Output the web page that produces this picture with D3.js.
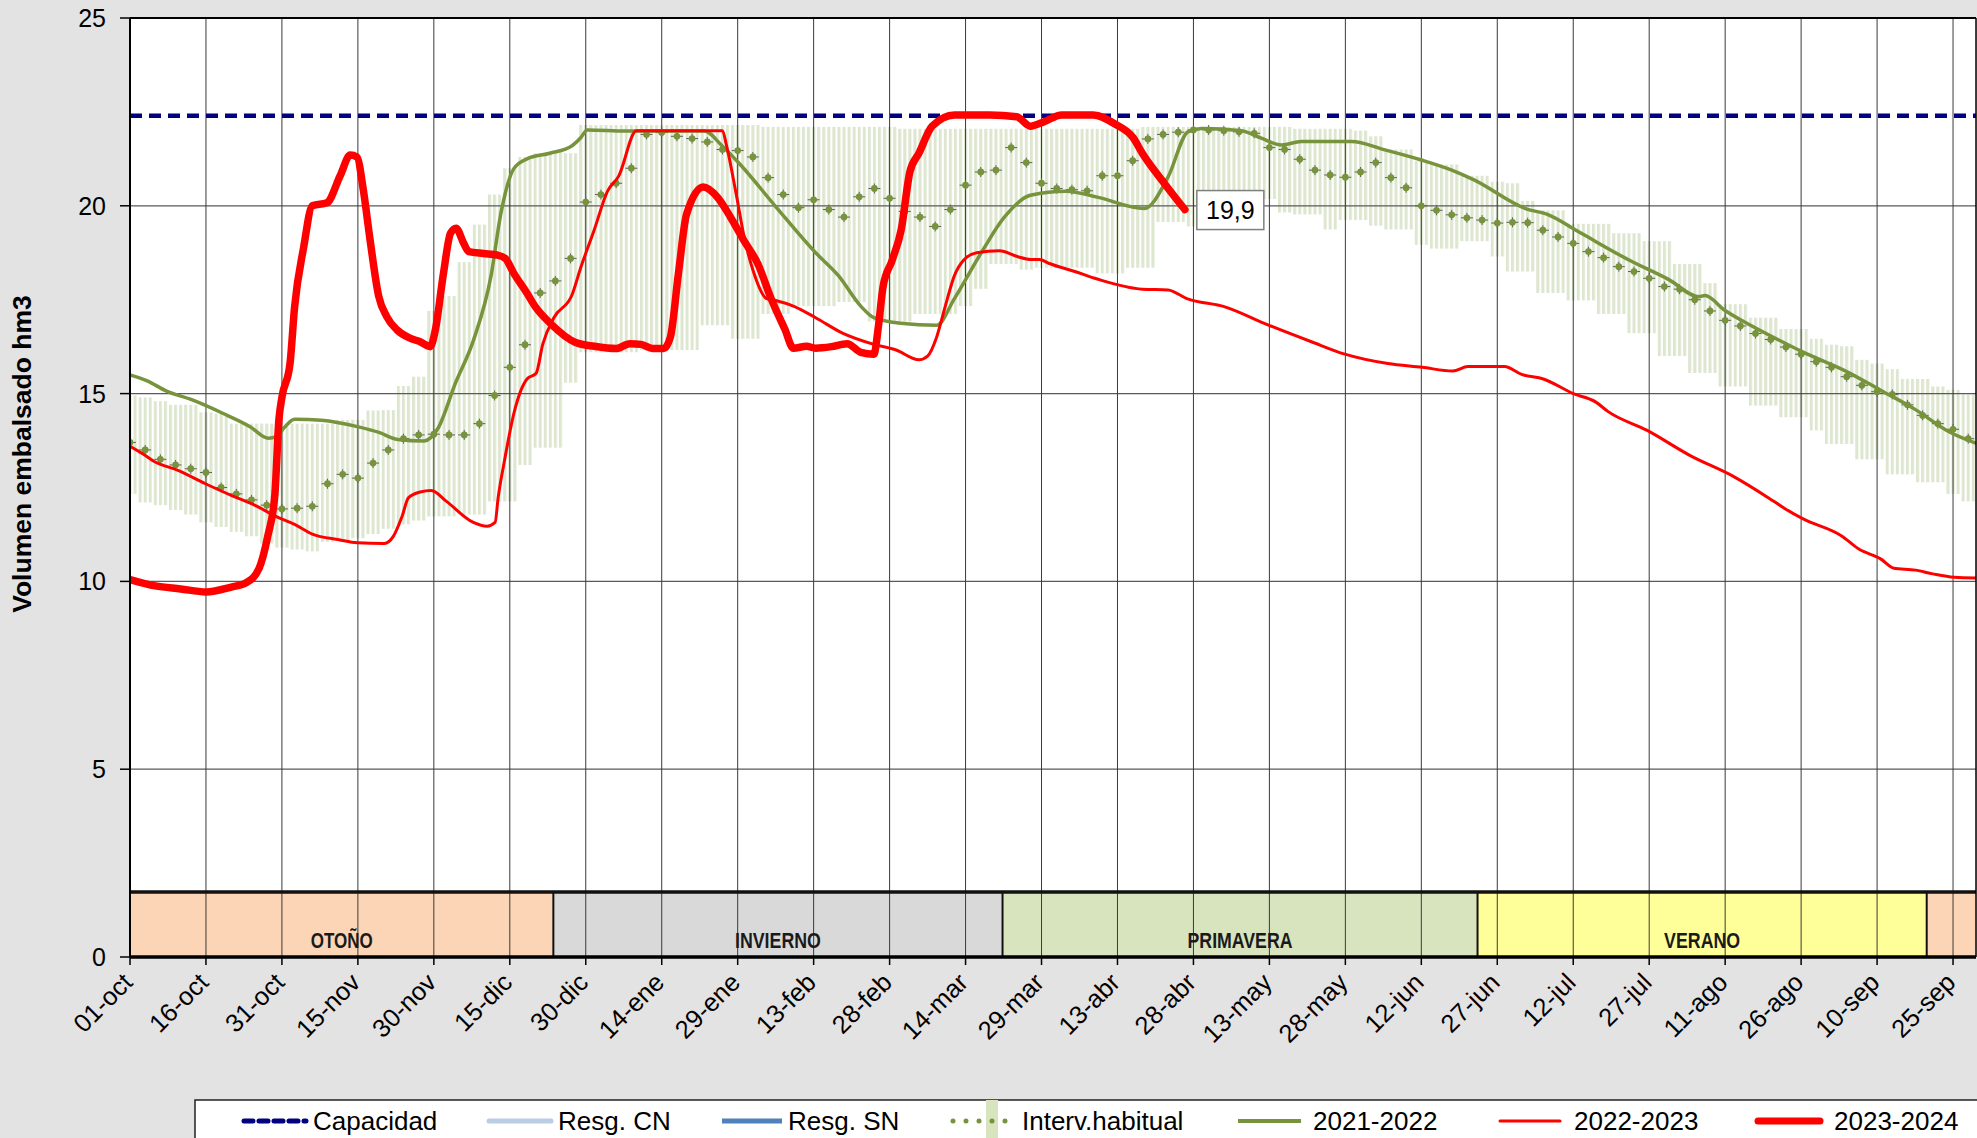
<!DOCTYPE html>
<html><head><meta charset="utf-8">
<script src="https://cdn.jsdelivr.net/npm/d3@7"></script>
<style>html,body{margin:0;padding:0;background:#e3e3e3;} svg{display:block;}</style>
</head><body>
<svg id="chart" width="1977" height="1138"></svg>
<script>
// ---------------- DATA ----------------
const tickLabels = ["01-oct","16-oct","31-oct","15-nov","30-nov","15-dic","30-dic","14-ene","29-ene","13-feb","28-feb","14-mar","29-mar","13-abr","28-abr","13-may","28-may","12-jun","27-jun","12-jul","27-jul","11-ago","26-ago","10-sep","25-sep"];
const tickDays = [0,15,30,45,60,75,90,105,120,135,150,165,180,195,210,225,240,255,270,285,300,315,330,345,360];
const yTicks = [0,5,10,15,20,25];
const capacidad = 22.4;
const seasonNames = ["OTOÑO","INVIERNO","PRIMAVERA","VERANO",""];
const seasonStart = [0, 83.6, 172.3, 266.1, 354.8];
const seasonEnd = [83.6, 172.3, 266.1, 354.8, 365];
const seasonBandTop = 1.73;

const habDays = [0,3,6,9,12,15,18,21,24,27,30,33,36,39,42,45,48,51,54,57,60,63,66,69,72,75,78,81,84,87,90,93,96,99,102,105,108,111,114,117,120,123,126,129,132,135,138,141,144,147,150,153,156,159,162,165,168,171,174,177,180,183,186,189,192,195,198,201,204,207,210,213,216,219,222,225,228,231,234,237,240,243,246,249,252,255,258,261,264,267,270,273,276,279,282,285,288,291,294,297,300,303,306,309,312,315,318,321,324,327,330,333,336,339,342,345,348,351,354,357,360,363];
const habHigh = [14.95,14.9,14.8,14.7,14.7,14.5,14.47,14.2,14.2,14.2,14.12,14.2,14.2,14.2,14.3,14.3,14.55,14.56,15.2,15.45,17.2,17.6,18.5,19.5,20.3,21.0,21.3,21.4,21.45,21.4,22.15,22.15,22.15,22.15,22.15,22.15,22.15,22.15,22.15,22.15,22.15,22.15,22.1,22.1,22.1,22.1,22.1,22.1,22.1,22.1,22.1,22.05,22.05,22.05,22.05,22.05,22.05,22.05,22.05,22.05,22.05,22.05,22.05,22.05,22.05,22.05,22.05,22.1,22.1,22.1,22.1,22.1,22.1,22.1,22.1,22.1,22.1,22.05,22.05,22.05,22.05,22.0,21.85,21.5,21.5,21.2,21.1,21.1,20.8,20.8,20.64,20.6,20.13,19.88,19.88,19.52,19.52,19.52,19.27,19.27,19.06,19.06,18.45,18.45,17.94,17.38,17.38,17.02,17.02,16.72,16.72,16.46,16.3,16.26,15.9,15.8,15.65,15.39,15.39,15.19,15.1,14.98];
const habLow = [12.33,12.1,12.03,11.9,11.78,11.57,11.45,11.32,11.2,11.01,10.9,10.85,10.8,11.05,11.1,11.15,11.26,11.4,11.52,11.62,11.73,11.73,11.78,11.78,12.13,12.13,13.1,13.56,13.56,15.29,16.1,16.1,16.1,16.1,16.16,16.16,16.16,16.16,16.82,16.82,16.46,16.46,17.12,17.12,17.33,17.33,17.33,17.44,17.44,16.92,16.92,16.92,17.12,17.12,17.12,17.33,17.79,18.45,18.45,18.3,18.35,18.35,18.35,18.35,18.2,18.2,18.35,18.35,19.57,19.57,19.45,19.45,19.45,19.45,20.18,20.18,19.82,19.77,19.77,19.37,19.62,19.62,19.47,19.37,19.37,18.96,18.86,18.86,19.06,19.06,18.65,18.25,18.25,17.68,17.68,17.48,17.48,17.12,17.12,16.61,16.61,16.0,16.0,15.55,15.55,15.19,15.19,14.68,14.68,14.37,14.37,14.02,13.66,13.66,13.25,13.25,12.85,12.85,12.64,12.64,12.33,12.13];
const habMed = [13.7,13.5,13.25,13.1,13.0,12.9,12.5,12.33,12.17,12.03,11.93,11.95,12.0,12.6,12.85,12.75,13.15,13.5,13.8,13.9,13.92,13.9,13.9,14.2,14.95,15.7,16.3,17.68,18.0,18.6,20.1,20.3,20.6,21.0,21.9,21.95,21.85,21.79,21.7,21.5,21.47,21.3,20.75,20.3,19.95,20.16,19.9,19.7,20.24,20.46,20.2,19.85,19.7,19.45,19.9,20.55,20.9,20.95,21.55,21.15,20.6,20.46,20.43,20.4,20.8,20.8,21.2,21.78,21.9,21.96,22.02,22.02,22.0,21.97,21.93,21.55,21.5,21.24,20.95,20.82,20.76,20.9,21.15,20.75,20.48,20.0,19.88,19.76,19.68,19.62,19.54,19.56,19.55,19.35,19.17,19.0,18.78,18.62,18.38,18.25,18.07,17.85,17.78,17.5,17.2,16.95,16.8,16.6,16.44,16.24,16.05,15.85,15.7,15.45,15.22,15.05,14.98,14.7,14.42,14.2,14.05,13.8];

const serie2021 = [[0,15.5],[3.4,15.34],[7,15.08],[12.3,14.83],[18.4,14.47],[23.7,14.12],[27.3,13.81],[29,13.86],[30.5,14.1],[32.5,14.32],[37.8,14.29],[44.9,14.12],[49.3,13.96],[52.8,13.78],[58.1,13.74],[60.8,14.07],[64.3,15.29],[67.8,16.41],[71.3,18.14],[73.2,19.77],[75.8,20.99],[78.4,21.25],[82.9,21.4],[87.3,21.6],[89,21.81],[90.3,22.02],[97.9,21.99],[113.4,21.99],[116.9,21.6],[120.5,21.1],[127.5,19.98],[135.4,18.75],[139.9,18.14],[144.3,17.33],[146.9,17.02],[152.2,16.87],[159.3,16.82],[162.8,17.53],[168.1,18.75],[172.5,19.67],[177.8,20.28],[184.9,20.39],[191,20.23],[200.3,19.93],[205,20.77],[208.9,21.97],[211.6,22.06],[219.5,22.0],[223.4,21.8],[227.4,21.62],[231.3,21.71],[241.2,21.71],[247.8,21.49],[255,21.22],[261,20.95],[265.4,20.69],[275.7,19.92],[279.9,19.77],[285.9,19.32],[296.1,18.55],[303.8,18.04],[309.8,17.58],[311,17.61],[314.9,17.22],[320,16.82],[325.1,16.46],[330.3,16.11],[338.8,15.6],[345.7,15.09],[352.5,14.58],[359.4,13.97],[364.9,13.66]];
const serie2022 = [[0,13.6],[2.5,13.4],[4.7,13.2],[9.6,12.95],[14.9,12.6],[20.2,12.28],[24.6,12.03],[29,11.72],[32.5,11.52],[36,11.26],[41.3,11.11],[44.9,11.03],[50.2,11.01],[52,11.2],[53.7,11.72],[55,12.23],[57.3,12.38],[59.5,12.42],[62.5,12.13],[67.8,11.57],[70.5,11.47],[72.1,11.57],[72.7,12.23],[74,13.25],[75.8,14.47],[78.4,15.39],[80.2,15.54],[81.5,16.31],[83.7,17.02],[87.3,17.63],[89,18.35],[91.7,19.37],[94.3,20.39],[96.5,20.79],[100,22.0],[117,22.0],[117.8,21.6],[119.6,20.39],[121.3,19.16],[123.1,18.25],[125.7,17.53],[127.5,17.48],[131,17.33],[135.4,17.02],[140.7,16.61],[146.9,16.31],[151.3,16.16],[155.8,15.9],[157.5,16.0],[159.3,16.51],[161,17.33],[162.8,18.14],[164.6,18.55],[167.2,18.75],[171.7,18.8],[175.2,18.65],[177.9,18.57],[179.6,18.57],[181.4,18.47],[186.6,18.25],[191,18.05],[199.9,17.78],[205,17.76],[208.7,17.53],[216.2,17.31],[224.7,16.83],[233.3,16.38],[239.9,16.05],[248.4,15.8],[255.2,15.7],[261.2,15.6],[264.2,15.72],[271.4,15.72],[274.8,15.51],[279.1,15.39],[285,15.0],[289.4,14.78],[291.9,14.52],[299.6,14.02],[308.1,13.35],[316.7,12.79],[323.5,12.23],[326.9,11.93],[330.3,11.67],[338,11.21],[341.4,10.86],[345.7,10.6],[348.3,10.35],[352.6,10.3],[356,10.2],[360.2,10.11],[364.9,10.09]];
const serie2023 = [[0,10.05],[5,9.88],[10,9.8],[15,9.72],[20,9.85],[23,9.97],[25.5,10.35],[27.2,11.2],[28.6,12.3],[29.4,14.3],[30,14.9],[31.6,15.8],[32.5,17.3],[34.3,18.9],[36,20.0],[38.9,20.08],[41.5,20.8],[43.5,21.35],[44.8,21.3],[46.1,20.4],[47.4,19.1],[49.1,17.6],[50.7,17.05],[52.7,16.7],[55.4,16.47],[57.3,16.38],[59.3,16.25],[60.3,16.7],[61.9,18.2],[63.3,19.27],[64.4,19.4],[65.9,19.0],[66.9,18.78],[69.8,18.73],[72.5,18.69],[74.1,18.6],[75.8,18.2],[78.4,17.67],[80.1,17.3],[83,16.87],[88,16.36],[91.7,16.26],[96,16.2],[98.7,16.33],[100.9,16.31],[103.2,16.2],[105.4,16.2],[106.7,16.5],[108.3,18.2],[109.9,19.77],[113.2,20.5],[116,20.23],[118.7,19.67],[121.3,19.06],[124,18.45],[126.6,17.53],[129.3,16.72],[131,16.21],[133.6,16.26],[135.4,16.21],[138.5,16.25],[141.6,16.33],[144.3,16.1],[146.9,16.05],[147.8,16.8],[148.7,17.84],[150.5,18.55],[152.3,19.37],[154,20.9],[155.8,21.4],[158.4,22.12],[162.8,22.42],[169.8,22.42],[175.1,22.37],[177.8,22.12],[180.5,22.24],[184,22.42],[190.2,22.42],[194.6,22.17],[198.1,21.81],[199.9,21.4],[204.3,20.59],[208.3,19.9]];
const lastLabel = "19,9";

const legendNames = ["Capacidad","Resg. CN","Resg. SN","Interv.habitual","2021-2022","2022-2023","2023-2024"];

// ---------------- STYLE / LAYOUT ----------------
const W = 1977, H = 1138;
const L = 130, R = 1976, T = 18, B = 957;
const pxPerDay = 5.064;
const FONT = "'Liberation Sans', Arial, Helvetica, sans-serif";
const seasonColor = ["#fbd5b5","#d9d9d9","#d7e4bd","#ffff99","#fbd5b5"];
const seasonTextLen = [62, 86, 105, 76, 0];
const C_GREEN = "#77933c", C_RED = "#ff0000", C_NAVY = "#000080";

const x = d3.scaleLinear().domain([0, 365]).range([L, L + 365 * pxPerDay]);
const y = d3.scaleLinear().domain([0, 25]).range([B, T]);

const svg = d3.select("#chart");
svg.append("rect").attr("width", W).attr("height", H).attr("fill", "#e3e3e3");

const defs = svg.append("defs");
defs.append("clipPath").attr("id", "clip").append("rect")
  .attr("x", L).attr("y", T).attr("width", R - L).attr("height", B - T);
const pat = defs.append("pattern").attr("id", "stripes").attr("patternUnits", "userSpaceOnUse")
  .attr("x", x(0) - 1.5).attr("y", 0).attr("width", x(1) - x(0)).attr("height", 20);
pat.append("rect").attr("x", 0).attr("y", 0).attr("width", 3).attr("height", 20).attr("fill", "#dde6cf");

svg.append("rect").attr("x", L).attr("y", T).attr("width", R - L).attr("height", B - T).attr("fill", "#ffffff");

const plot = svg.append("g").attr("clip-path", "url(#clip)");

// habitual interval bars
plot.append("g").selectAll("rect").data(habDays).join("rect")
  .attr("x", d => x(d - 1.5))
  .attr("width", x(3) - x(0))
  .attr("y", (d, i) => y(habHigh[i]))
  .attr("height", (d, i) => y(habLow[i]) - y(habHigh[i]))
  .attr("fill", "url(#stripes)");

// season band
const seasons = seasonNames.map((n, i) => ({ name: n, s: seasonStart[i], e: seasonEnd[i], c: seasonColor[i], tl: seasonTextLen[i] }));
plot.append("g").selectAll("rect").data(seasons).join("rect")
  .attr("x", d => x(d.s)).attr("width", d => x(d.e) - x(d.s))
  .attr("y", y(seasonBandTop)).attr("height", y(0) - y(seasonBandTop))
  .attr("fill", d => d.c);

// horizontal gridlines
plot.append("g").selectAll("line").data(yTicks.filter(v => v > 0 && v < 25)).join("line")
  .attr("x1", L).attr("x2", R).attr("y1", d => y(d)).attr("y2", d => y(d))
  .attr("stroke", "#5a5a5a").attr("stroke-width", 1.2);

// vertical gridlines
plot.append("g").selectAll("line").data(tickDays.slice(1)).join("line")
  .attr("x1", d => x(d)).attr("x2", d => x(d)).attr("y1", T).attr("y2", B)
  .attr("stroke", "#3a3a3a").attr("stroke-width", 1);

// season band borders
plot.append("g").selectAll("line").data(seasons.slice(1)).join("line")
  .attr("x1", d => x(d.s)).attr("x2", d => x(d.s))
  .attr("y1", y(seasonBandTop)).attr("y2", y(0))
  .attr("stroke", "#111").attr("stroke-width", 2);
plot.append("line").attr("x1", L).attr("x2", R).attr("y1", y(seasonBandTop)).attr("y2", y(seasonBandTop))
  .attr("stroke", "#111").attr("stroke-width", 3.5);
plot.append("g").selectAll("text").data(seasons.filter(d => d.name)).join("text")
  .attr("x", d => x((d.s + d.e) / 2)).attr("y", 948)
  .attr("text-anchor", "middle")
  .attr("font-family", "'Liberation Sans Narrow', 'Arial Narrow', " + FONT)
  .attr("font-weight", "bold").attr("font-size", 22)
  .attr("textLength", d => d.tl).attr("lengthAdjust", "spacingAndGlyphs")
  .attr("fill", "#1a1a1a")
  .text(d => d.name);

// habitual median crosses + dots
const crosses = plot.append("g").attr("stroke", "#5f5f5f").attr("stroke-width", 1);
crosses.selectAll("line.h").data(habDays).join("line").attr("class", "h")
  .attr("x1", d => x(d) - 6).attr("x2", d => x(d) + 6)
  .attr("y1", (d, i) => y(habMed[i])).attr("y2", (d, i) => y(habMed[i]));
crosses.selectAll("line.v").data(habDays).join("line").attr("class", "v")
  .attr("x1", d => x(d)).attr("x2", d => x(d))
  .attr("y1", (d, i) => y(habMed[i]) - 5).attr("y2", (d, i) => y(habMed[i]) + 5);
plot.append("g").selectAll("circle").data(habDays).join("circle")
  .attr("cx", d => x(d)).attr("cy", (d, i) => y(habMed[i])).attr("r", 3.4)
  .attr("fill", C_GREEN);

// capacity
plot.append("line").attr("x1", L).attr("x2", R).attr("y1", y(capacidad)).attr("y2", y(capacidad))
  .attr("stroke", C_NAVY).attr("stroke-width", 4.5).attr("stroke-dasharray", "12,7");

const line = d3.line().x(d => x(d[0])).y(d => y(d[1])).curve(d3.curveMonotoneX);
plot.append("path").datum(serie2021).attr("d", line).attr("fill", "none")
  .attr("stroke", C_GREEN).attr("stroke-width", 3.5).attr("stroke-linejoin", "round");
plot.append("path").datum(serie2022).attr("d", line).attr("fill", "none")
  .attr("stroke", C_RED).attr("stroke-width", 3).attr("stroke-linejoin", "round");
plot.append("path").datum(serie2023).attr("d", line).attr("fill", "none")
  .attr("stroke", C_RED).attr("stroke-width", 7.5).attr("stroke-linejoin", "round").attr("stroke-linecap", "round");

// last value label
const last = serie2023[serie2023.length - 1];
const lbl = svg.append("g").attr("transform", `translate(${x(last[0]) + 12},${y(last[1])})`);
lbl.append("rect").attr("x", 0).attr("y", -19).attr("width", 67).attr("height", 39)
  .attr("fill", "#fff").attr("stroke", "#7f7f7f").attr("stroke-width", 1.5);
lbl.append("text").attr("x", 33.5).attr("y", 9).attr("text-anchor", "middle")
  .attr("font-family", FONT).attr("font-size", 25).attr("fill", "#000").text(lastLabel);

// borders / axes
svg.append("line").attr("x1", L).attr("x2", R).attr("y1", T).attr("y2", T).attr("stroke", "#000").attr("stroke-width", 2);
svg.append("line").attr("x1", R).attr("x2", R).attr("y1", T).attr("y2", B).attr("stroke", "#000").attr("stroke-width", 1.5);
svg.append("line").attr("x1", L).attr("x2", L).attr("y1", T).attr("y2", B).attr("stroke", "#000").attr("stroke-width", 2);
svg.append("line").attr("x1", L).attr("x2", R).attr("y1", B).attr("y2", B).attr("stroke", "#000").attr("stroke-width", 3.5);

// y axis ticks + labels
const ya = svg.append("g");
ya.selectAll("line").data(yTicks).join("line")
  .attr("x1", L - 10).attr("x2", L).attr("y1", d => y(d)).attr("y2", d => y(d))
  .attr("stroke", "#000").attr("stroke-width", 1.5);
ya.selectAll("text").data(yTicks).join("text")
  .attr("x", 106).attr("y", d => y(d) + 9).attr("text-anchor", "end")
  .attr("font-family", FONT).attr("font-size", 25).attr("fill", "#000")
  .text(d => d);
svg.append("text").attr("transform", `translate(31,454) rotate(-90)`)
  .attr("text-anchor", "middle").attr("font-family", FONT).attr("font-weight", "bold")
  .attr("font-size", 26.5).attr("fill", "#000").text("Volumen embalsado hm3");

// x axis ticks + labels
const xa = svg.append("g");
xa.selectAll("line").data(tickDays).join("line")
  .attr("x1", d => x(d)).attr("x2", d => x(d)).attr("y1", B).attr("y2", B + 8)
  .attr("stroke", "#000").attr("stroke-width", 1.5);
xa.selectAll("text").data(tickDays).join("text")
  .attr("transform", d => `translate(${x(d) + 4},${B + 27}) rotate(-45)`)
  .attr("text-anchor", "end").attr("font-family", FONT).attr("font-size", 25.5).attr("fill", "#000")
  .text((d, i) => tickLabels[i]);

// legend
const lg = svg.append("g");
lg.append("rect").attr("x", 195).attr("y", 1100).attr("width", 1800).attr("height", 60)
  .attr("fill", "#fff").attr("stroke", "#222").attr("stroke-width", 1.5);
const ly = 1121, ty = 1129.5;
lg.append("line").attr("x1", 244).attr("x2", 306).attr("y1", ly).attr("y2", ly)
  .attr("stroke", C_NAVY).attr("stroke-width", 5).attr("stroke-dasharray", "9,6").attr("stroke-linecap", "round");
lg.append("line").attr("x1", 489).attr("x2", 551).attr("y1", ly).attr("y2", ly)
  .attr("stroke", "#b9cde5").attr("stroke-width", 5).attr("stroke-linecap", "round");
lg.append("line").attr("x1", 722).attr("x2", 782).attr("y1", ly).attr("y2", ly)
  .attr("stroke", "#4f81bd").attr("stroke-width", 5);
lg.append("rect").attr("x", 986).attr("y", 1100).attr("width", 12).attr("height", 38).attr("fill", "#d7e4bd");
lg.append("line").attr("x1", 953).attr("x2", 1016).attr("y1", ly).attr("y2", ly)
  .attr("stroke", C_GREEN).attr("stroke-width", 5).attr("stroke-dasharray", "0,13").attr("stroke-linecap", "round");
lg.append("line").attr("x1", 1238).attr("x2", 1301).attr("y1", ly).attr("y2", ly)
  .attr("stroke", C_GREEN).attr("stroke-width", 4);
lg.append("line").attr("x1", 1500).attr("x2", 1560).attr("y1", ly).attr("y2", ly)
  .attr("stroke", C_RED).attr("stroke-width", 3).attr("stroke-linecap", "round");
lg.append("line").attr("x1", 1758).attr("x2", 1820).attr("y1", ly).attr("y2", ly)
  .attr("stroke", C_RED).attr("stroke-width", 7).attr("stroke-linecap", "round");
const legendTextX = [313, 558, 788, 1022, 1313, 1574, 1834];
lg.selectAll("text").data(legendNames).join("text")
  .attr("x", (d, i) => legendTextX[i]).attr("y", ty)
  .attr("font-family", FONT).attr("font-size", 26).attr("fill", "#000")
  .text(d => d);
</script>
</body></html>
